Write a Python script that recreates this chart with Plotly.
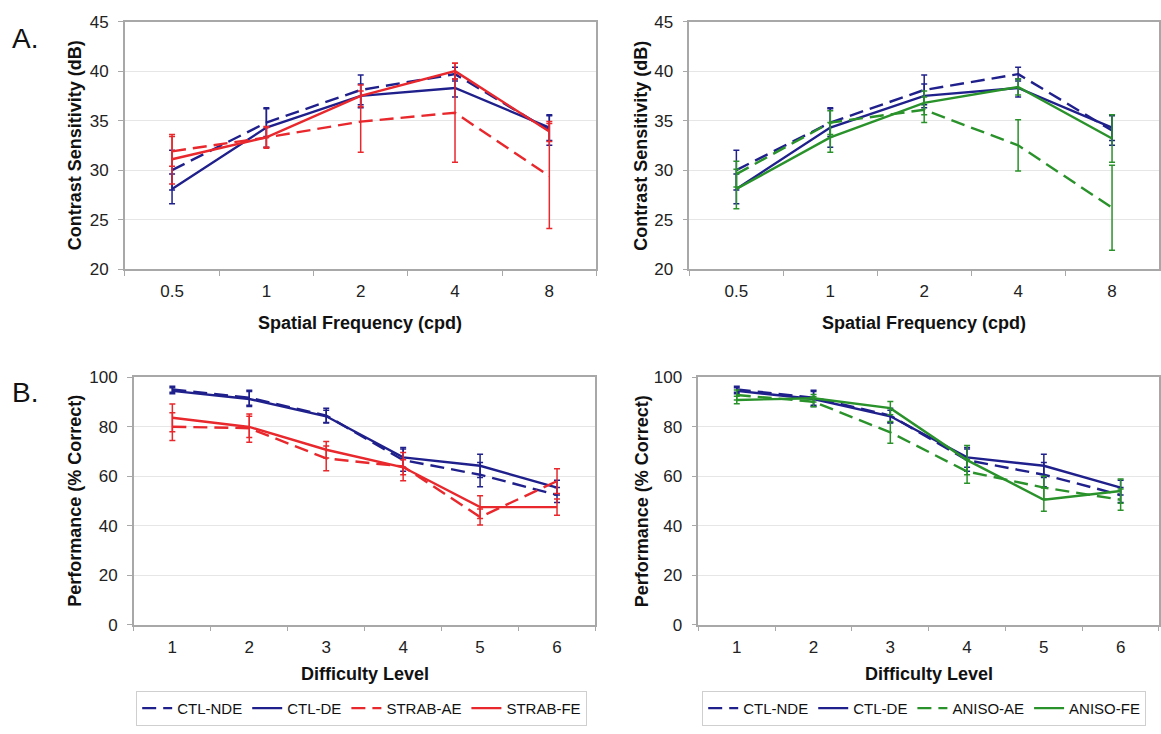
import plotly.graph_objects as go

# ---- data ----
freq_labels = ["0.5", "1", "2", "4", "8"]
level_labels = ["1", "2", "3", "4", "5", "6"]

# contrast sensitivity (dB) by spatial frequency
cs_ctl_nde = [30.0, 34.8, 38.1, 39.7, 34.0]
cs_ctl_nde_err = [2.0, 1.4, 1.5, 0.7, 1.5]
cs_ctl_de = [28.1, 34.3, 37.5, 38.3, 34.3]
cs_ctl_de_err = [1.5, 2.0, 1.2, 0.9, 1.3]
cs_strab_ae = [31.9, 33.3, 34.9, 35.8, 29.4]
cs_strab_ae_err = [1.5, 1.0, 3.1, 5.0, 5.3]
cs_strab_fe = [31.1, 33.3, 37.5, 40.0, 33.9]
cs_strab_fe_err = [2.5, 1.1, 1.1, 0.8, 1.0]
cs_aniso_ae = [29.6, 34.8, 36.1, 32.5, 26.2]
cs_aniso_ae_err = [1.3, 1.2, 1.3, 2.6, 4.3]
cs_aniso_fe = [28.1, 33.3, 36.8, 38.4, 33.2]
cs_aniso_fe_err = [2.0, 1.5, 1.2, 0.8, 2.4]

# performance (% correct) by difficulty level
pc_ctl_nde = [95.1, 91.7, 84.5, 66.5, 60.6, 52.4]
pc_ctl_nde_err = [1.2, 3.0, 3.0, 4.5, 4.9, 3.0]
pc_ctl_de = [94.5, 91.2, 84.2, 67.6, 64.2, 55.4]
pc_ctl_de_err = [1.2, 3.0, 2.5, 4.0, 4.7, 3.0]
pc_strab_ae = [80.0, 79.4, 67.2, 63.9, 43.5, 58.0]
pc_strab_ae_err = [5.6, 5.7, 5.0, 5.7, 3.2, 5.0]
pc_strab_fe = [83.6, 79.9, 70.7, 63.6, 47.5, 47.5]
pc_strab_fe_err = [5.6, 4.3, 3.3, 3.0, 4.6, 3.3]
pc_aniso_ae = [92.8, 90.1, 77.7, 61.9, 55.4, 50.5]
pc_aniso_ae_err = [2.0, 2.0, 4.4, 4.8, 4.6, 4.3]
pc_aniso_fe = [90.8, 91.5, 87.5, 66.5, 50.5, 54.0]
pc_aniso_fe_err = [1.5, 1.5, 2.7, 5.9, 4.7, 4.9]

# ---- styling ----
W, H = 1161, 734
FONT = "Liberation Sans, Arial, sans-serif"
BLUE = "#20208c"
RED = "#e8282c"
GREEN = "#2a922a"
DASH = "14px,7px"
AXIS_GRAY = "#a8a8a8"
GRID_GRAY = "#e6e6e6"


def px_x(x0, x1):
    return [x0 / W, x1 / W]


def px_y(top, bottom):
    return [1 - bottom / H, 1 - top / H]


fig = go.Figure()


def add_series(x, y, err, color, dashed, name, xa, ya, legend=None):
    fig.add_trace(go.Scatter(
        x=x, y=y, mode="lines", name=name,
        line=dict(color=color, width=2.4, dash=DASH if dashed else "solid"),
        error_y=dict(type="data", array=err, visible=True, color=color,
                     thickness=1.5, width=3),
        xaxis=xa, yaxis=ya,
        showlegend=legend is not None,
        legend=legend if legend else "legend",
    ))


# panel A, left
add_series(freq_labels, cs_ctl_nde, cs_ctl_nde_err, BLUE, True, "CTL-NDE", "x", "y")
add_series(freq_labels, cs_ctl_de, cs_ctl_de_err, BLUE, False, "CTL-DE", "x", "y")
add_series(freq_labels, cs_strab_ae, cs_strab_ae_err, RED, True, "STRAB-AE", "x", "y")
add_series(freq_labels, cs_strab_fe, cs_strab_fe_err, RED, False, "STRAB-FE", "x", "y")
# panel A, right
add_series(freq_labels, cs_ctl_nde, cs_ctl_nde_err, BLUE, True, "CTL-NDE", "x2", "y2")
add_series(freq_labels, cs_ctl_de, cs_ctl_de_err, BLUE, False, "CTL-DE", "x2", "y2")
add_series(freq_labels, cs_aniso_ae, cs_aniso_ae_err, GREEN, True, "ANISO-AE", "x2", "y2")
add_series(freq_labels, cs_aniso_fe, cs_aniso_fe_err, GREEN, False, "ANISO-FE", "x2", "y2")
# panel B, left
add_series(level_labels, pc_ctl_nde, pc_ctl_nde_err, BLUE, True, "CTL-NDE", "x3", "y3", "legend")
add_series(level_labels, pc_ctl_de, pc_ctl_de_err, BLUE, False, "CTL-DE", "x3", "y3", "legend")
add_series(level_labels, pc_strab_ae, pc_strab_ae_err, RED, True, "STRAB-AE", "x3", "y3", "legend")
add_series(level_labels, pc_strab_fe, pc_strab_fe_err, RED, False, "STRAB-FE", "x3", "y3", "legend")
# panel B, right
add_series(level_labels, pc_ctl_nde, pc_ctl_nde_err, BLUE, True, "CTL-NDE", "x4", "y4", "legend2")
add_series(level_labels, pc_ctl_de, pc_ctl_de_err, BLUE, False, "CTL-DE", "x4", "y4", "legend2")
add_series(level_labels, pc_aniso_ae, pc_aniso_ae_err, GREEN, True, "ANISO-AE", "x4", "y4", "legend2")
add_series(level_labels, pc_aniso_fe, pc_aniso_fe_err, GREEN, False, "ANISO-FE", "x4", "y4", "legend2")

tick_font = dict(family=FONT, size=17, color="#222222")


def xaxis(domain, anchor, cats):
    return dict(domain=domain, anchor=anchor, type="category",
                categoryorder="array", categoryarray=cats,
                range=[-0.5, len(cats) - 0.5], tickson="boundaries",
                ticks="outside", ticklen=5, tickcolor=AXIS_GRAY,
                ticklabelstandoff=6,
                showline=True, linecolor=AXIS_GRAY, linewidth=1.5, mirror=True,
                showgrid=False, tickfont=tick_font, fixedrange=True)


def yaxis(domain, anchor, rng, dtick):
    return dict(domain=domain, anchor=anchor, range=rng, dtick=dtick,
                ticks="outside", ticklen=5, tickcolor=AXIS_GRAY,
                ticklabelstandoff=6,
                showline=True, linecolor=AXIS_GRAY, linewidth=1.5, mirror=True,
                showgrid=True, gridcolor=GRID_GRAY, gridwidth=1,
                zeroline=False, tickfont=tick_font, fixedrange=True)


legend_common = dict(orientation="h", xanchor="center", yanchor="middle",
                     bordercolor="#cfcfcf", borderwidth=1, bgcolor="white",
                     font=dict(family=FONT, size=15), itemwidth=30,
                     tracegroupgap=0, traceorder="normal")

fig.update_layout(
    width=W, height=H,
    margin=dict(l=0, r=0, t=0, b=0),
    paper_bgcolor="white", plot_bgcolor="white",
    font=dict(family=FONT, color="#111111"),
    xaxis=xaxis(px_x(125, 597), "y", freq_labels),
    yaxis=yaxis(px_y(13, 267), "x", [20, 45], 5),
    xaxis2=xaxis(px_x(690, 1160), "y2", freq_labels),
    yaxis2=yaxis(px_y(13, 267), "x2", [20, 45], 5),
    xaxis3=xaxis(px_x(134, 596), "y3", level_labels),
    yaxis3=yaxis(px_y(378, 632), "x3", [0, 100], 20),
    xaxis4=xaxis(px_x(699, 1160), "y4", level_labels),
    yaxis4=yaxis(px_y(378, 632), "x4", [0, 100], 20),
    legend=dict(x=362 / W, y=1 - 718 / H, **legend_common),
    legend2=dict(x=925 / W, y=1 - 718 / H, **legend_common),
)


def label(text, x, y, angle=0, size=18, bold=True):
    fig.add_annotation(text=f"<b>{text}</b>" if bold else text,
                       x=x / W, y=1 - y / H, xref="paper", yref="paper",
                       showarrow=False, textangle=angle,
                       font=dict(family=FONT, size=size, color="#111111"),
                       xanchor="center", yanchor="middle")


label("Contrast Sensitivity (dB)", 75, 140, -90)
label("Contrast Sensitivity (dB)", 642, 140, -90)
label("Performance (% Correct)", 75, 505, -90)
label("Performance (% Correct)", 642, 505, -90)
label("Spatial Frequency (cpd)", 360, 322)
label("Spatial Frequency (cpd)", 925, 322)
label("Difficulty Level", 365, 683)
label("Difficulty Level", 930, 683)
label("A.", 25, 30, size=28, bold=False)
label("B.", 25, 394, size=28, bold=False)

fig.write_html("out.html")
